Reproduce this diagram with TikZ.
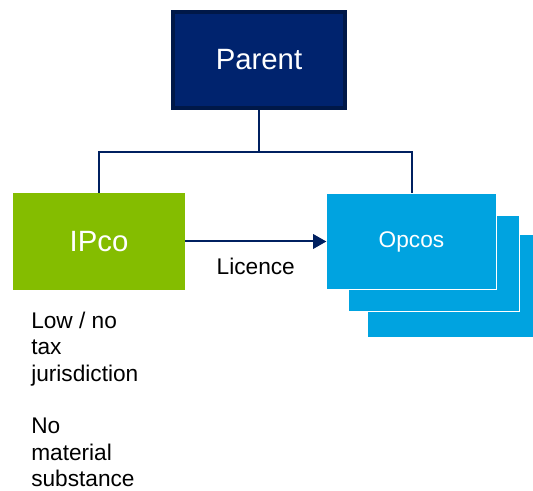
\documentclass[tikz,border=0pt]{standalone}
\usepackage{fontspec}
\setmainfont{Liberation Sans}
\usetikzlibrary{arrows.meta}

\begin{document}
\begin{tikzpicture}[x=0.75pt,y=0.75pt,yscale=-1,xscale=1,
        box/.style={inner sep=0pt, text=white},
        link/.style={draw={rgb, 255:red, 0; green, 32; blue, 96 }, line width=1.5pt}]
        \useasboundingbox (0,0) rectangle (533,491);

        %Shape: Rectangle [id:parent]
        \node [box, fill={rgb, 255:red, 0; green, 35; blue, 110 }, draw={rgb, 255:red, 0; green, 24; blue, 72 }, line width=3pt, minimum width=129pt, minimum height=72pt, font=\fontsize{22}{26}\selectfont] (parent) at (259,60) {\raisebox{-2pt}{Parent}};
        %Shape: Rectangle [id:opcos3]
        \node [box, fill={rgb, 255:red, 0; green, 163; blue, 224 }, draw=white, line width=0.75pt, minimum width=128pt, minimum height=77pt] (opcos3) at (453,286) {};
        %Shape: Rectangle [id:opcos2]
        \node [box, fill={rgb, 255:red, 0; green, 163; blue, 224 }, draw=white, line width=0.75pt, minimum width=128pt, minimum height=72pt] (opcos2) at (434,263.5) {};
        %Shape: Rectangle [id:opcos]
        \node [box, fill={rgb, 255:red, 0; green, 163; blue, 224 }, draw=white, line width=0.75pt, minimum width=127pt, minimum height=72pt, font=\fontsize{17}{20}\selectfont] (opcos) at (411.5,241.5) {\raisebox{-2pt}{Opcos}};
        %Shape: Rectangle [id:ipco]
        \node [box, fill={rgb, 255:red, 132; green, 189; blue, 0 }, minimum width=129pt, minimum height=73pt, font=\fontsize{22}{26}\selectfont] (ipco) at (99,241.5) {IPco};

        %Straight Lines
        \draw [link] (parent.south) -- ++(0,42) -| (ipco.north);
        \draw [link] (parent.south) -- ++(0,42) -| (opcos.north);
        \draw [link, -{Triangle[length=10pt,width=11pt]}] (ipco.east) -- (opcos.west) node [midway, below=12pt, inner sep=0pt, text=black, font=\fontsize{17}{20}\selectfont] (licence) {Licence};

        % Text Node
        \draw (31,312) node [anchor=north west][inner sep=0pt, align=left, font=\fontsize{17}{19.7}\selectfont] (note) {Low / no\\tax\\jurisdiction\\[19.7pt]No\\material\\substance};

        \end{tikzpicture}
\end{document}
